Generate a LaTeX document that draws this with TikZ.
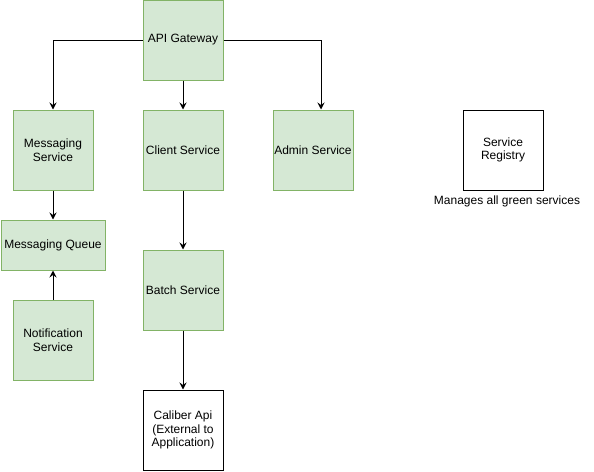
\documentclass[tikz,border=0pt]{standalone}
\usepackage{fontspec}
\setmainfont{Liberation Sans}
\usetikzlibrary{positioning, arrows.meta}

\definecolor{greenfill}{HTML}{D5E8D4}
\definecolor{greendraw}{HTML}{82B366}

\begin{document}
\begin{tikzpicture}[
    x=1pt, y=-1pt,
    every node/.style={font=\fontsize{12}{13.5}\selectfont, align=center, inner sep=0pt},
    % Green service box
    svc/.style={rectangle, draw=greendraw, fill=greenfill, line width=1pt,
        minimum width=80pt, minimum height=80pt},
    % External / plain box
    plain/.style={rectangle, draw=black, fill=white, line width=1pt,
        minimum width=80pt, minimum height=80pt},
    % Connector
    flow/.style={line width=1pt, -{Stealth[length=7pt, width=7pt, inset=2.5pt]}},
]
\useasboundingbox (0,0) rectangle (594,471);

% ====================================================
% SERVICES
% ====================================================
\node[svc] (gateway) at (183, 40) {API Gateway};

\node[svc] (msgsvc) at (53, 150) {Messaging\\Service};
\node[svc] (client) at (183, 150) {Client Service};
\node[svc] (admin) at (313, 150) {Admin Service};

\node[svc, minimum width=104pt, minimum height=50pt] (queue) at (53, 245) {Messaging Queue};
\node[svc] (notify) at (53, 340) {Notification\\Service};
\node[svc] (batch) at (183, 290) {Batch Service};

\node[plain] (caliber) at (183, 430) {Caliber Api\\(External to\\Application)};

% Registry with note
\node[plain] (registry) at (503, 150) {Service\\Registry};
\node (regnote) at (507, 201) {Manages all green services};

% ====================================================
% CONNECTORS
% ====================================================
\draw[flow] (gateway.west) -| (msgsvc.north);
\draw[flow] (gateway.south) -- (client.north);
\draw[flow] (gateway.east) -| ([xshift=8pt]admin.north);
\draw[flow] (msgsvc.south) -- (queue.north);
\draw[flow] (notify.north) -- (queue.south);
\draw[flow] (client.south) -- (batch.north);
\draw[flow] (batch.south) -- (caliber.north);

\end{tikzpicture}
\end{document}
